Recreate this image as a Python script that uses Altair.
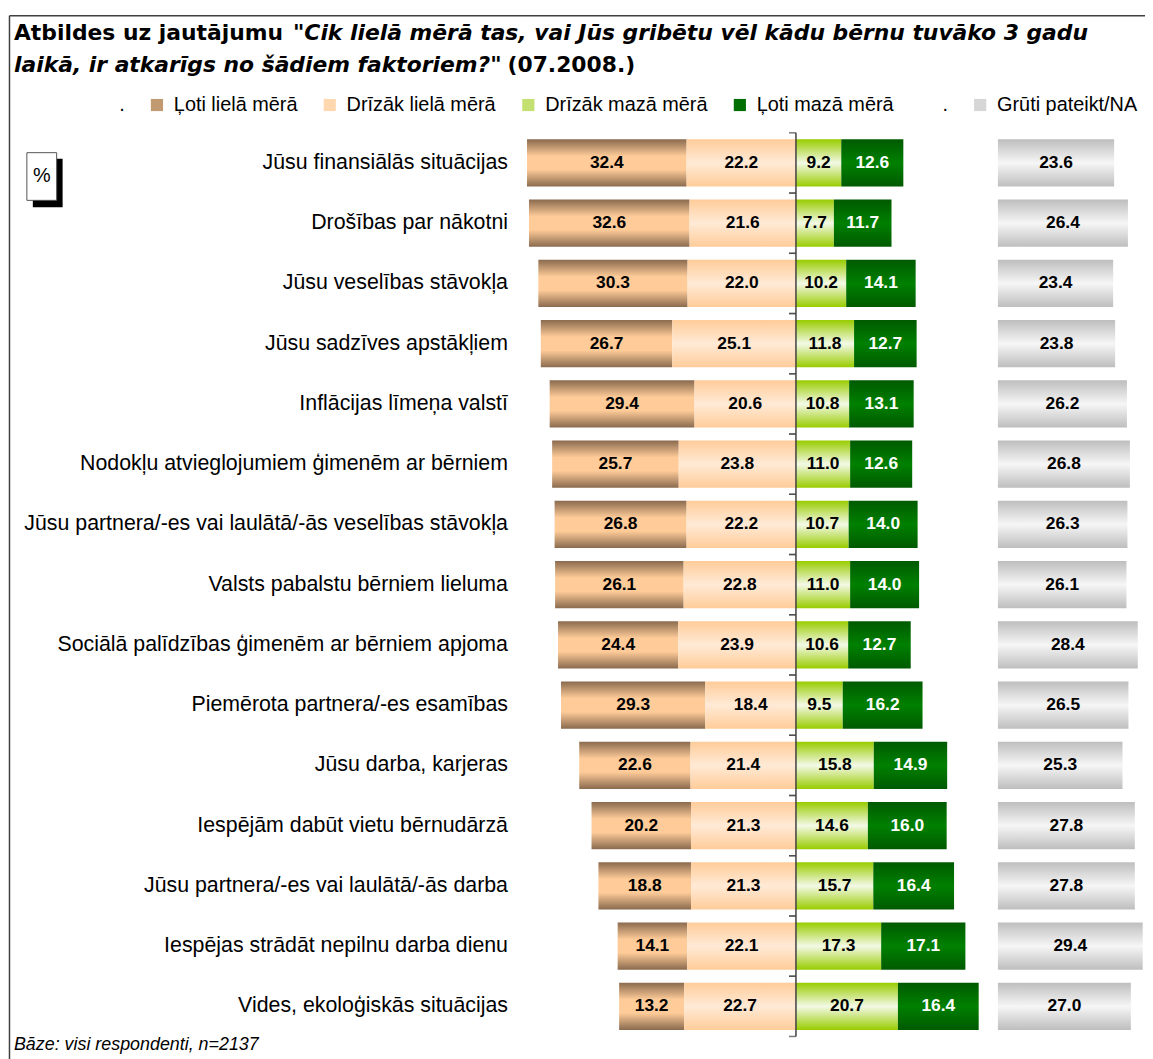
import altair as alt
import pandas as pd

# ---------------- data ----------------
categories = [
    "Jūsu finansiālās situācijas",
    "Drošības par nākotni",
    "Jūsu veselības stāvokļa",
    "Jūsu sadzīves apstākļiem",
    "Inflācijas līmeņa valstī",
    "Nodokļu atvieglojumiem ģimenēm ar bērniem",
    "Jūsu partnera/-es vai laulātā/-ās veselības stāvokļa",
    "Valsts pabalstu bērniem lieluma",
    "Sociālā palīdzības ģimenēm ar bērniem apjoma",
    "Piemērota partnera/-es esamības",
    "Jūsu darba, karjeras",
    "Iespējām dabūt vietu bērnudārzā",
    "Jūsu partnera/-es vai laulātā/-ās darba",
    "Iespējas strādāt nepilnu darba dienu",
    "Vides, ekoloģiskās situācijas",
]
very_large = [32.4, 32.6, 30.3, 26.7, 29.4, 25.7, 26.8, 26.1, 24.4, 29.3, 22.6, 20.2, 18.8, 14.1, 13.2]
rather_large = [22.2, 21.6, 22.0, 25.1, 20.6, 23.8, 22.2, 22.8, 23.9, 18.4, 21.4, 21.3, 21.3, 22.1, 22.7]
rather_small = [9.2, 7.7, 10.2, 11.8, 10.8, 11.0, 10.7, 11.0, 10.6, 9.5, 15.8, 14.6, 15.7, 17.3, 20.7]
very_small = [12.6, 11.7, 14.1, 12.7, 13.1, 12.6, 14.0, 14.0, 12.7, 16.2, 14.9, 16.0, 16.4, 17.1, 16.4]
hard_to_say = [23.6, 26.4, 23.4, 23.8, 26.2, 26.8, 26.3, 26.1, 28.4, 26.5, 25.3, 27.8, 27.8, 29.4, 27.0]

series_names = ["Ļoti lielā mērā", "Drīzāk lielā mērā", "Drīzāk mazā mērā",
                "Ļoti mazā mērā", "Grūti pateikt/NA"]
legend_labels = [".", "Ļoti lielā mērā", "Drīzāk lielā mērā", "Drīzāk mazā mērā",
                 "Ļoti mazā mērā", ". ", "Grūti pateikt/NA"]

# ---------------- layout / style constants ----------------
NA_START = 41.0            # invisible spacer before the "Grūti pateikt/NA" bars
X_DOMAIN = [-56.75, 70.46]
W, H = 631, 910
STEP = H / len(categories)
FONT = "Liberation Sans"

def grad(edge, mid, p=0.5):
    if p == 0.5:
        stops = [alt.GradientStop(color=edge, offset=0),
                 alt.GradientStop(color=mid, offset=0.5),
                 alt.GradientStop(color=edge, offset=1)]
    else:
        stops = [alt.GradientStop(color=edge, offset=0),
                 alt.GradientStop(color=mid, offset=p),
                 alt.GradientStop(color=mid, offset=1 - p),
                 alt.GradientStop(color=edge, offset=1)]
    return alt.Gradient(gradient="linear", stops=stops, x1=0, x2=0, y1=0, y2=1)

fills = {
    series_names[0]: grad("#8A6A4E", "#FFCC99", 0.36),
    series_names[1]: grad("#FFCC99", "#FFEAD6"),
    series_names[2]: grad("#99CC00", "#F3F9E6"),
    series_names[3]: grad("#005A00", "#008000"),
    series_names[4]: grad("#BEBEBE", "#F6F6F6"),
}
legend_colors = ["transparent", "#C29A72", "#FFD8B0", "#C4E070", "#006E00", "transparent", "#D6D6D6"]

# ---------------- table ----------------
rows = []
for i, cat in enumerate(categories):
    a, b, c, d, e = very_large[i], rather_large[i], rather_small[i], very_small[i], hard_to_say[i]
    rows += [
        dict(cat=cat, series=series_names[0], x0=-(a + b), x1=-b, v=a),
        dict(cat=cat, series=series_names[1], x0=-b, x1=0.0, v=b),
        dict(cat=cat, series=series_names[2], x0=0.0, x1=c, v=c),
        dict(cat=cat, series=series_names[3], x0=c, x1=c + d, v=d),
        dict(cat=cat, series=series_names[4], x0=NA_START, x1=NA_START + e, v=e),
    ]
df = pd.DataFrame(rows)
df["mid"] = (df["x0"] + df["x1"]) / 2
df["lbl"] = df["v"].map(lambda v: f"{v:.1f}")

xscale = alt.Scale(domain=X_DOMAIN, nice=False, zero=False)
yaxis = alt.Axis(title=None, domain=False, ticks=False, labelFont=FONT, labelFontSize=21.5,
                 labelColor="black", labelPadding=9, labelLimit=700)

def yenc():
    return alt.Y("cat:N", sort=categories,
                 scale=alt.Scale(paddingInner=0.215, paddingOuter=0.1075), axis=yaxis)

base = alt.Chart(df)

layers = []
for s in series_names:
    layers.append(
        base.transform_filter(alt.datum.series == s)
        .mark_bar(fill=fills[s], strokeWidth=0)
        .encode(x=alt.X("x0:Q", scale=xscale, axis=None), x2="x1:Q", y=yenc())
    )

labels = base.mark_text(font=FONT, fontSize=17.5, fontWeight="bold", baseline="middle").encode(
    x=alt.X("mid:Q", scale=xscale, axis=None),
    y=yenc(),
    text="lbl:N",
    color=alt.condition(alt.datum.series == series_names[3], alt.value("white"), alt.value("black")),
)

zero_df = pd.DataFrame({"z": [0.0]})
center_line = alt.Chart(zero_df).mark_rule(color="#404040", strokeWidth=1.5).encode(
    x=alt.X("z:Q", scale=xscale, axis=None))

cat_df = pd.DataFrame({"cat": categories, "z": [0.0] * len(categories)})
ticks_top = alt.Chart(cat_df).mark_tick(orient="horizontal", size=7, thickness=1.5,
                                        color="#404040", xOffset=-3.5, yOffset=-STEP / 2).encode(
    x=alt.X("z:Q", scale=xscale, axis=None), y=yenc())
ticks_bot = alt.Chart(cat_df).mark_tick(orient="horizontal", size=7, thickness=1.5,
                                        color="#404040", xOffset=-3.5, yOffset=STEP / 2).encode(
    x=alt.X("z:Q", scale=xscale, axis=None), y=yenc())

# legend (drawn by the library from an invisible layer)
leg_df = pd.DataFrame({"s": legend_labels})
legend_layer = alt.Chart(leg_df).mark_rect().encode(
    x=alt.datum(0.0), x2=alt.datum(0.0), y=alt.value(0), y2=alt.value(0),
    color=alt.Color("s:N", scale=alt.Scale(domain=legend_labels, range=legend_colors),
                    legend=alt.Legend(title=None, orient="none", legendX=-427, legendY=-38,
                                      direction="horizontal", symbolType="square",
                                      symbolSize=150, symbolStrokeWidth=0,
                                      labelFont=FONT, labelFontSize=20, labelLimit=400,
                                      labelColor="black", labelOffset=7, columnPadding=22)),
)

one = pd.DataFrame({"a": [0]})

def txt(text, x, y, size, font=FONT, weight="normal", style="normal", align="left", color="black"):
    return alt.Chart(one).mark_text(text=text, font=font, fontSize=size, fontWeight=weight,
                                    fontStyle=style, align=align, baseline="alphabetic",
                                    color=color).encode(x=alt.value(x), y=alt.value(y))

TF = "DejaVu Sans"
title_parts = [
    txt("Atbildes uz jautājumu", -506, -93, 22, TF, "bold"),
    txt("\"Cik lielā mērā tas, vai Jūs gribētu vēl kādu bērnu tuvāko 3 gadu", -225, -93, 22, TF, "bold", "italic"),
    txt("laikā, ir atkarīgs no šādiem faktoriem?\"", -506, -61, 22, TF, "bold", "italic"),
    txt("(07.2008.)", -9, -61, 22, TF, "bold"),
    txt("Bāze: visi respondenti, n=2137", -506, 924, 18, FONT, "normal", "italic"),
]

def rect(x, x2, y, y2, fill, stroke=None):
    kw = dict(fill=fill, strokeWidth=0)
    if stroke:
        kw = dict(fill=fill, stroke=stroke, strokeWidth=1)
    return alt.Chart(one).mark_rect(**kw).encode(
        x=alt.value(x), x2=alt.value(x2), y=alt.value(y), y2=alt.value(y2))

pct_box = [
    rect(-487, -457, 26, 75, "black"),
    rect(-493, -463, 20, 68, "white", "#555555"),
    txt("%", -478, 50, 20, FONT, "normal", "normal", "center"),
]

frame = [
    alt.Chart(one).mark_rule(color="#404040", strokeWidth=1.5).encode(
        x=alt.value(-510.5), y=alt.value(-118), y2=alt.value(H + 60)),
    alt.Chart(one).mark_rule(color="#404040", strokeWidth=1.5).encode(
        x=alt.value(-510.5), x2=alt.value(W + 40), y=alt.value(-118)),
]

chart = alt.layer(
    *layers, labels, center_line, ticks_top, ticks_bot, legend_layer,
    *title_parts, *pct_box, *frame
).properties(
    width=W, height=H,
    autosize=alt.AutoSizeParams(type="none"),
    padding={"left": 512, "top": 122, "right": 2, "bottom": 19},
).configure_view(strokeWidth=0)

chart.save("out.html", embed_options={"renderer": "svg", "actions": False})
